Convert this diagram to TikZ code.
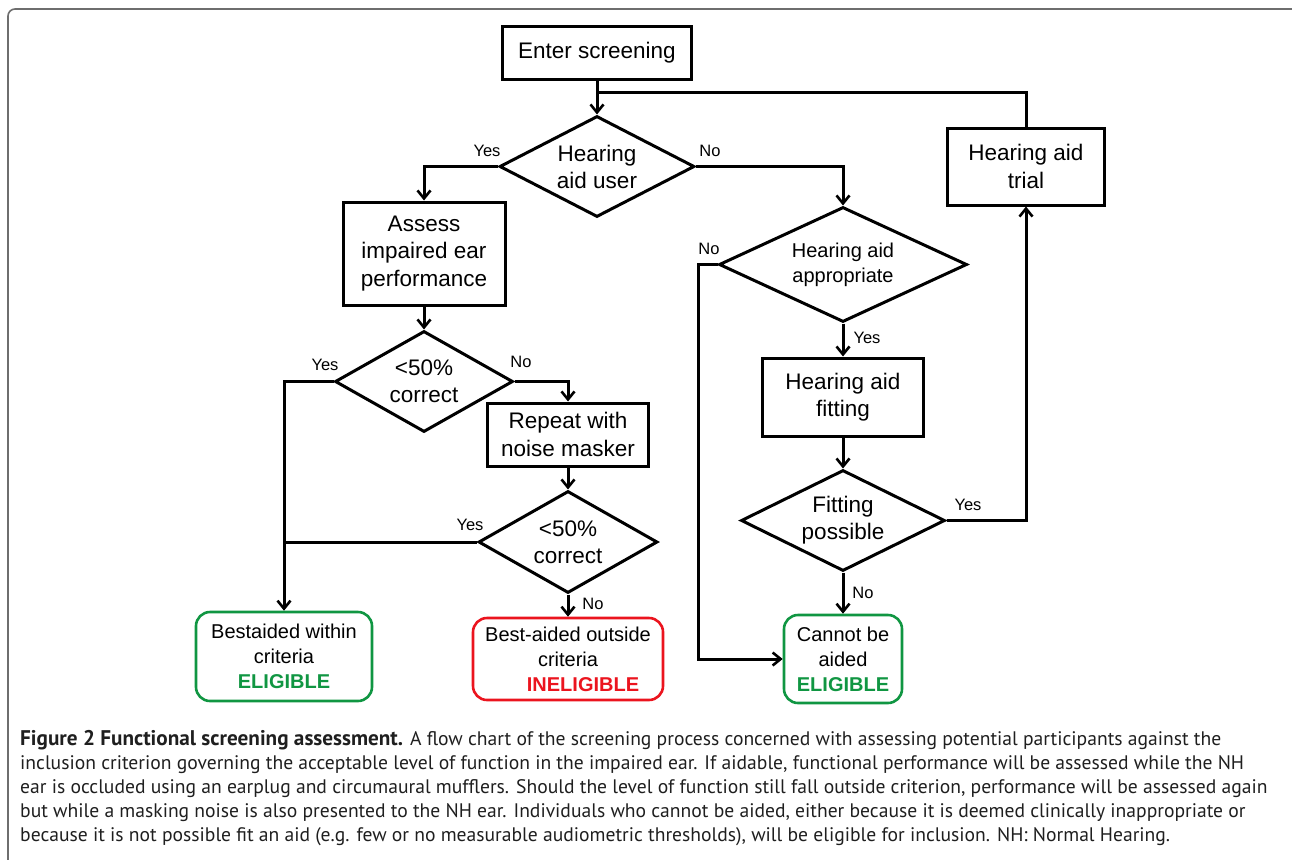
\documentclass[tikz,border=0pt]{standalone}
\usepackage{fontspec}
\setmainfont{Liberation Sans}
\newfontfamily\capfont{PT Sans}
\usetikzlibrary{shapes.geometric,arrows.meta}
\definecolor{eligreen}{RGB}{16,150,66}
\definecolor{inelred}{RGB}{235,20,30}
\definecolor{framegray}{RGB}{110,110,110}
\tikzset{
  conn/.style={line width=3pt},
  arr/.style={conn,-{Straight Barb[length=8pt,width=13pt,line width=2.6pt]}},
  procbox/.style={draw,line width=3pt,rectangle,inner sep=0pt,align=center,font=\fontsize{22.5}{27.5}\selectfont},
  dia/.style={draw,line width=3pt,diamond,inner sep=0pt},
  endbox/.style={draw,line width=2.6pt,rectangle,rounded corners=14pt,inner sep=0pt,align=center,font=\fontsize{20}{25}\selectfont},
  lab/.style={font=\fontsize{16.5}{18}\selectfont,inner sep=0pt},
  captext/.style={anchor=base west,inner sep=0pt,font=\capfont\fontsize{19.6}{22}\selectfont,text=black!88}
}
\begin{document}
\begin{tikzpicture}[x=1pt,y=-1pt]
\useasboundingbox (0,0) rectangle (1292,859);
% frame
\draw[framegray,line width=1.6pt,rounded corners=7pt] (1310,9) -- (8,9) -- (8,880);

% nodes
\node[procbox,minimum width=189pt,minimum height=52pt] (enter) at (597,53) {Enter screening};
\node[dia,minimum width=195pt,minimum height=101pt,
  label={[align=center,font=\fontsize{22.5}{27}\selectfont]center:Hearing\\aid user}] (hau) at (597,166.5) {};
\node[procbox,minimum width=162pt,minimum height=103pt] (assess) at (424,253.5) {Assess\\impaired ear\\performance};
\node[dia,minimum width=178pt,minimum height=101pt,
  label={[align=center,font=\fontsize{22.5}{27}\selectfont]center:{<50\%}\\correct}] (c1) at (424,381.5) {};
\node[procbox,minimum width=161pt,minimum height=63pt] (rep) at (568,434.5) {Repeat with\\noise masker};
\node[dia,minimum width=179pt,minimum height=102pt,
  label={[align=center,font=\fontsize{22.5}{27}\selectfont]center:{<50\%}\\correct}] (c2) at (568,542) {};
\node[endbox,draw=eligreen,minimum width=176pt,minimum height=89pt] (within) at (284,656.5)
  {Bestaided within\\criteria\\\textcolor{eligreen}{\bfseries ELIGIBLE}};
\node[endbox,draw=inelred,minimum width=190pt,minimum height=82pt] (inel) at (568,659)
  {Best-aided outside\\criteria\\\hspace*{30pt}\textcolor{inelred}{\bfseries INELIGIBLE}};
\node[dia,minimum width=248pt,minimum height=115pt,
  label={[align=center,font=\fontsize{20}{25}\selectfont]center:Hearing aid\\appropriate}] (hap) at (843,264.5) {};
\node[procbox,minimum width=161pt,minimum height=78pt] (fit) at (843,397) {Hearing aid\\fitting};
\node[dia,minimum width=204pt,minimum height=101pt,
  label={[align=center,font=\fontsize{22.5}{27}\selectfont]center:Fitting\\possible}] (fp) at (843,520.5) {};
\node[endbox,draw=eligreen,minimum width=118pt,minimum height=88pt] (cannot) at (843,659)
  {Cannot be\\aided\\\textcolor{eligreen}{\bfseries ELIGIBLE}};
\node[procbox,minimum width=157pt,minimum height=77pt] (trial) at (1026,166.5) {Hearing aid\\trial};

% connectors
\coordinate (j1) at (597,92);
\draw[arr] (enter.south) -- (hau.north);
\draw[conn] (trial.north) |- (j1);
\draw[arr] (hau.west) -| (assess.north);
\draw[arr] (hau.east) -| (hap.north);
\draw[arr] (assess.south) -- (c1.north);
\draw[arr] (c1.west) -| (within.north);
\draw[arr] (c1.east) -| (rep.north);
\draw[arr] (rep.south) -- (c2.north);
\draw[conn] (c2.west) -- (c2.west -| within.north);
\draw[arr] (c2.south) -- (inel.north);
\coordinate (hn) at (698,264.5);
\draw[arr] (hap.west) -- (hn) |- (cannot.west);
\draw[arr] (hap.south) -- (fit.north);
\draw[arr] (fit.south) -- (fp.north);
\draw[arr] (fp.east) -| (trial.south);
\draw[arr] (fp.south) -- (cannot.north);

% labels
\node[lab] at (487,151) {Yes};
\node[lab] at (710,151) {No};
\node[lab] at (325,365) {Yes};
\node[lab] at (521,362) {No};
\node[lab] at (470,525) {Yes};
\node[lab] at (593,604) {No};
\node[lab] at (709,249) {No};
\node[lab] at (867,338) {Yes};
\node[lab] at (968,505) {Yes};
\node[lab] at (863,593) {No};

% caption
\node[captext] (cap1) at (20,745) {{\bfseries\fontsize{21.2}{22}\selectfont Figure 2 Functional screening assessment.} A flow chart of the screening process concerned with assessing potential participants against the};
\node[captext] (cap2) at (20,769) {inclusion criterion governing the acceptable level of function in the impaired ear. If aidable, functional performance will be assessed while the NH};
\node[captext] (cap3) at (20,793) {ear is occluded using an earplug and circumaural mufflers. Should the level of function still fall outside criterion, performance will be assessed again};
\node[captext] (cap4) at (20,817) {but while a masking noise is also presented to the NH ear. Individuals who cannot be aided, either because it is deemed clinically inappropriate or};
\node[captext] (cap5) at (20,841) {because it is not possible fit an aid (e.g. few or no measurable audiometric thresholds), will be eligible for inclusion. NH: Normal Hearing.};
\end{tikzpicture}
\end{document}
